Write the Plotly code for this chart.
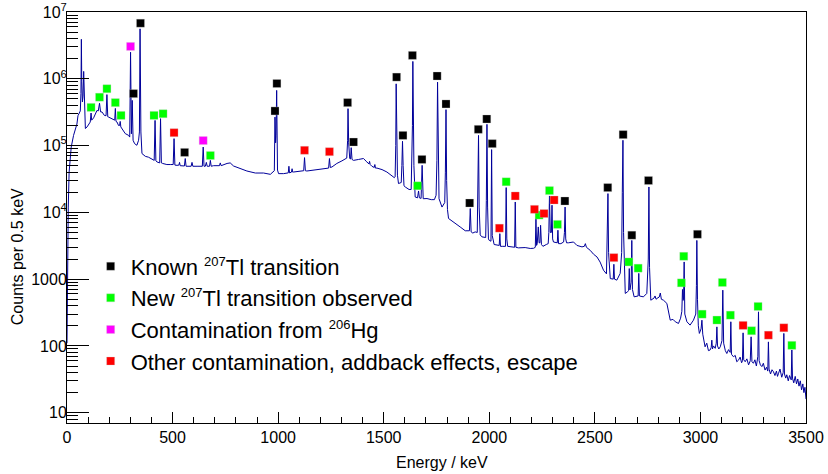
import plotly.graph_objects as go

# ---------------- spectrum (energy in keV, counts per 0.5 keV) ----------------
spec_energy = [
    0, 3, 6, 10, 15, 20, 31, 42, 47, 52, 58, 63, 66, 68, 70, 73, 76, 79, 82, 87,
    95, 105, 110, 114, 117, 126, 135, 142, 148, 154, 159, 166, 177, 185, 189, 193, 197,
    213, 226, 229, 232, 237, 244, 249, 252, 255, 260, 276, 292, 297, 301, 305, 309, 313,
    320, 331, 339, 343, 346, 350, 355,
    371, 386, 402, 413, 417, 421, 426, 434, 439, 443, 447, 453, 473, 489, 503, 507, 511,
    521, 530, 533, 536, 556, 560, 564, 576, 588, 592, 596, 616, 641, 645, 649, 655, 660,
    664, 675, 679, 683, 694, 722, 726, 730, 758, 773, 789, 821, 852, 892, 931, 963, 978,
    982, 985, 988, 990, 993, 997, 1002,
    1026, 1048, 1051, 1054, 1063, 1066, 1069, 1073, 1105, 1121, 1125, 1129, 1136, 1184,
    1215, 1239, 1243, 1247, 1255, 1278, 1302, 1318, 1325, 1329, 1331, 1334, 1339, 1343,
    1346, 1350, 1357, 1381, 1404, 1420, 1430, 1433, 1436, 1444, 1455, 1458, 1461, 1468,
    1492, 1515, 1539, 1550, 1554, 1557, 1559, 1561, 1565, 1570,
    1583, 1586, 1589, 1592, 1596, 1602, 1620, 1630, 1634, 1636, 1638, 1640, 1643, 1649,
    1660, 1665, 1669, 1677, 1682, 1687, 1705, 1725, 1740, 1748, 1752, 1755, 1758, 1762,
    1776, 1789, 1792, 1795, 1798, 1802, 1807, 1831, 1862, 1886, 1906, 1910, 1914, 1922,
    1933, 1943, 1946, 1949, 1952, 1957, 1965, 1983, 1986, 1989, 1992, 1996, 2000, 2008,
    2011, 2014, 2023,
    2036, 2047, 2050, 2053, 2064, 2077, 2080, 2083, 2087, 2099, 2120, 2123, 2126, 2138,
    2170, 2194, 2210, 2218, 2221, 2224, 2227, 2232, 2236, 2240, 2243, 2247, 2254, 2270,
    2279, 2282, 2285, 2289, 2294, 2297, 2300, 2304, 2314, 2322, 2325, 2328, 2339, 2352,
    2356, 2359, 2362, 2366, 2375, 2399, 2415, 2439, 2450, 2455, 2460, 2478, 2494, 2510,
    2525, 2541,
    2555, 2559, 2562, 2565, 2573, 2587, 2590, 2593, 2604, 2620, 2627, 2630, 2633, 2636,
    2644, 2655, 2660, 2663, 2666, 2672, 2675, 2678, 2686, 2705, 2708, 2711, 2730, 2746,
    2753, 2756, 2759, 2765, 2780, 2785, 2790, 2794, 2805, 2810, 2815, 2825, 2841, 2857,
    2870, 2881, 2896, 2906, 2912, 2915, 2918, 2920, 2923, 2926, 2936, 2951, 2967, 2978,
    2981, 2983, 2986, 2990, 2995,
    3003, 3007, 3011, 3022, 3030, 3038, 3046, 3051, 3054, 3057, 3062, 3070, 3075, 3078,
    3081, 3087, 3094, 3102, 3106, 3110, 3118, 3125, 3133, 3141, 3144, 3147, 3156, 3165,
    3172, 3180, 3188, 3195, 3199, 3202, 3205, 3212, 3220, 3228, 3236, 3240, 3244, 3251,
    3258, 3265, 3272, 3275, 3278, 3284, 3291, 3298, 3306, 3313, 3319, 3322, 3325, 3332,
    3339, 3346, 3353, 3360, 3365, 3370, 3377, 3385, 3392, 3395, 3398, 3404, 3409, 3416,
    3422, 3430, 3433, 3436, 3442, 3449, 3455, 3461, 3467, 3473, 3479, 3485, 3490, 3495,
    3500,
]
spec_counts = [
    110, 2000, 1.2e4, 4.0e4, 7.0e4, 9.5e4, 1.42e5, 1.8e5, 2.1e5, 2.8e5, 3.0e5, 3.3e5, 6.0e5, 3.9e6, 9.0e5, 4.5e5, 5.5e5, 1.29e6, 3.5e5, 1.8e5,
    1.9e5, 2.1e5, 2.25e5, 3.07e5, 2.4e5, 2.6e5, 3.0e5, 3.36e5, 3.3e5, 4.3e5, 3.2e5, 3.18e5, 2.83e5, 2.8e5, 5.8e5, 2.7e5, 2.67e5,
    2.53e5, 2.4e5, 3.6e5, 2.3e5, 2.25e5, 2.0e5, 2.0e5, 2.3e5, 1.9e5, 1.79e5, 1.51e5, 1.42e5, 1.34e5, 2.5e6, 1.5e5, 4.75e5, 1.2e5,
    1.07e5, 1.01e5, 1.2e5, 1.6e5, 5.6e6, 1.6e5, 7.6e4,
    6.9e4, 6.7e4, 6.2e4, 6.0e4, 2.38e5, 5.9e4, 5.7e4, 5.5e4, 5.5e4, 2.53e5, 5.5e4, 5.4e4, 5.2e4, 5.2e4, 5.2e4, 1.27e5, 5.1e4,
    5.06e4, 5.1e4, 5.6e4, 5.0e4, 4.95e4, 6.4e4, 4.9e4, 4.9e4, 4.9e4, 5.6e4, 4.9e4, 4.9e4, 4.9e4, 9.5e4, 4.9e4, 4.9e4, 5.6e4,
    4.9e4, 4.9e4, 6.0e4, 4.9e4, 5.0e4, 5.0e4, 5.5e4, 5.0e4, 5.4e4, 5.5e4, 4.94e4, 4.52e4, 4.16e4, 3.88e4, 3.88e4, 3.71e4, 4.02e4,
    4.2e4, 2.67e5, 1.1e5, 1.4e5, 6.7e5, 4.3e4, 3.8e4,
    3.8e4, 3.9e4, 4.9e4, 3.9e4, 4.0e4, 4.5e4, 4.0e4, 4.02e4, 4.16e4, 4.2e4, 6.6e4, 4.2e4, 4.16e4, 4.37e4,
    4.52e4, 4.6e4, 6.4e4, 4.7e4, 4.78e4, 5.4e4, 5.9e4, 6.2e4, 6.5e4, 1.2e5, 3.57e5, 1.1e5, 6.4e4, 6.3e4,
    9.3e4, 6.2e4, 6.0e4, 6.2e4, 6.4e4, 5.7e4, 5.3e4, 5.8e4, 5.2e4, 4.9e4, 4.7e4, 5.2e4, 4.6e4, 4.6e4,
    4.37e4, 4.02e4, 3.59e4, 3.31e4, 3.4e4, 1.0e5, 8.4e5, 9.0e4, 3.6e4, 2.7e4,
    2.8e4, 5.0e4, 1.16e5, 5.0e4, 2.5e4, 2.4e4, 2.2e4, 2.2e4, 6.0e4, 2.0e5, 1.82e6, 2.0e5, 5.0e4, 1.7e4,
    1.65e4, 2.09e4, 1.65e4, 1.62e4, 5.06e4, 1.6e4, 1.61e4, 1.55e4, 1.55e4, 1.8e4, 6.0e4, 8.9e5, 5.0e4, 1.6e4,
    1.2e4, 1.4e4, 4.0e4, 3.45e5, 3.0e4, 1.1e4, 8.1e3, 7.2e3, 6.05e3, 5.3e3, 5.3e3, 1.14e4, 5.1e3, 4.9e3,
    5.1e3, 5.0e3, 1.5e4, 1.42e5, 1.2e4, 4.6e3, 4.3e3, 4.2e3, 1.5e4, 2.08e5, 1.2e4, 4.0e3, 3.8e3, 3.7e3,
    8.7e4, 4.5e3, 3.3e3,
    3.2e3, 3.2e3, 4.8e3, 3.1e3, 3.1e3, 3.1e3, 2.35e4, 4.0e3, 3.1e3, 3.04e3, 3.0e3, 1.43e4, 3.0e3, 2.94e3,
    2.97e3, 2.88e3, 2.9e3, 3.0e3, 8.1e3, 3.2e3, 3.4e3, 6.05e3, 3.5e3, 3.5e3, 6.4e3, 3.3e3, 3.1e3, 3.3e3,
    3.4e3, 5.0e3, 1.76e4, 5.0e3, 5.0e3, 1.28e4, 4.0e3, 3.6e3, 3.5e3, 3.5e3, 5.4e3, 3.4e3, 3.4e3, 3.6e3,
    5.0e3, 1.2e4, 4.0e3, 3.5e3, 3.5e3, 3.6e3, 3.2e3, 3.04e3, 3.1e3, 3.4e3, 3.0e3, 2.7e3, 2.36e3, 2.15e3,
    1.8e3, 1.36e3,
    1.2e3, 3.5e3, 1.91e4, 2.5e3, 1.02e3, 1.0e3, 1.67e3, 1.0e3, 966, 1.22e3, 2.5e3, 2.0e4, 1.2e5, 5.0e3,
    611, 646, 680, 1.44e3, 690, 900, 3.8e3, 700, 543, 560, 1.22e3, 560, 543, 611,
    2.0e3, 2.4e4, 1.5e3, 484, 520, 560, 500, 514, 540, 620, 500, 484, 433, 243,
    250, 230, 217, 260, 330, 700, 480, 500, 1.81e3, 300, 230, 205, 243, 300,
    800, 3.8e3, 500, 200, 154,
    180, 243, 150, 97, 110, 85, 87, 95, 122, 90, 100, 92, 110, 193,
    100, 90, 97, 120, 684, 110, 85, 77, 88, 80, 230, 75, 69, 72,
    58, 61, 68, 56, 60, 157, 62, 58, 64, 52, 60, 137, 58, 55,
    62, 50, 70, 324, 60, 52, 49, 55, 43.5, 48, 42, 115, 45, 38,
    44, 41, 36, 42, 35, 39, 45, 34, 40, 154, 38, 33, 37, 30,
    36, 31, 87, 33, 28, 35, 27, 32, 25, 30, 22, 27, 20, 24,
    16,
]

# ---------------- peak labels (marker energy, marker counts) ----------------
known_E = [348, 315, 994, 985, 557, 1329, 1357, 1561, 1591, 1636, 1681, 1753, 1795,
           1907, 1948, 1988, 2014, 2358, 2561, 2634, 2675, 2754, 2986]
known_C = [6.8e6, 6.0e5, 8.5e5, 3.3e5, 7.9e4, 4.4e5, 1.13e5, 1.06e6, 1.42e5, 2.24e6, 6.2e4,
           1.1e6, 4.2e5, 1.38e4, 1.75e5, 2.5e5, 1.07e5, 1.48e4, 2.35e4, 1.46e5, 4.55e3,
           3.0e4, 4.7e3]

new_E = [114, 154, 189, 229, 256, 412, 455, 679, 1660, 2080, 2236, 2285, 2323, 2661,
         2705, 2921, 2910, 3008, 3078, 3104, 3142, 3242, 3273, 3433]
new_C = [3.73e5, 5.3e5, 7.1e5, 4.4e5, 2.83e5, 2.83e5, 3.0e5, 7.1e4, 2.5e4, 2.87e4, 9.1e3,
         2.12e4, 6.6e3, 1.81e3, 1.46e3, 2.2e3, 880, 299, 244, 891, 289, 169, 390, 102]

hg_E = [301, 645]
hg_C = [3.05e6, 1.19e5]

other_E = [507, 1125, 1243, 2048, 2123, 2214, 2259, 2307, 2590, 3202, 3322, 3395]
other_C = [1.56e5, 8.5e4, 8.1e4, 5.8e3, 1.76e4, 1.11e4, 9.6e3, 1.53e4, 2.1e3, 203, 145, 187]

SUP = '<sup><span style="font-size:13px">{}</span></sup>'
legend_names = [
    "Known " + SUP.format("207") + "Tl transition",
    "New " + SUP.format("207") + "Tl transition observed",
    "Contamination from " + SUP.format("206") + "Hg",
    "Other contamination, addback effects, escape",
]
legend_colors = ["#000000", "#00ff00", "#ff00ff", "#ff0000"]

x_major = [0, 500, 1000, 1500, 2000, 2500, 3000, 3500]
y_major = [10, 100, 1000, 1e4, 1e5, 1e6, 1e7]
y_major_text = ["10", "100", "1000", "10<sup>4</sup>", "10<sup>5</sup>", "10<sup>6</sup>", "10<sup>7</sup>"]
y_minor = [m * 10 ** k for k in range(0, 7) for m in range(2, 10)]

FONT = "Liberation Sans, Arial, Helvetica, sans-serif"

fig = go.Figure()
fig.add_trace(go.Scatter(
    x=spec_energy, y=spec_counts, mode="lines",
    line=dict(color="#00009a", width=1), showlegend=False, hoverinfo="skip",
))

groups = [(known_E, known_C), (new_E, new_C), (hg_E, hg_C), (other_E, other_C)]
for i, ((ex, cy), name, col) in enumerate(zip(groups, legend_names, legend_colors)):
    fig.add_trace(go.Scatter(
        x=ex, y=cy, mode="markers", name=name, legendgroup=f"g{i}",
        marker=dict(symbol="square", size=8, color=col,
                    line=dict(color="rgba(200,200,200,0.6)", width=0.5)),
    ))

fig.update_layout(
    width=828, height=474,
    margin=dict(l=67, r=22, t=12, b=51, autoexpand=False),
    paper_bgcolor="white", plot_bgcolor="white",
    font=dict(family=FONT, size=16, color="black"),
    showlegend=True,
    legend=dict(
        x=0.032, y=0.432, xanchor="left", yanchor="top",
        bgcolor="rgba(0,0,0,0)", borderwidth=0,
        font=dict(family=FONT, size=22, color="black"),
        traceorder="grouped", tracegroupgap=0,
        itemwidth=30,
    ),
    annotations=[
        dict(text="Energy / keV", xref="paper", yref="paper", x=0.507, y=-0.097,
             xanchor="center", yanchor="middle", showarrow=False,
             font=dict(family=FONT, size=16, color="black")),
        dict(text="Counts per 0.5 keV", xref="paper", yref="paper", x=-0.066, y=0.404,
             xanchor="center", yanchor="middle", showarrow=False, textangle=-90,
             font=dict(family=FONT, size=16, color="black")),
    ],
)

fig.update_xaxes(
    range=[0, 3500], tickmode="array", tickvals=x_major, automargin=False,
    ticks="inside", ticklen=11, tickwidth=1, tickcolor="black",
    minor=dict(dtick=100, tick0=0, ticks="inside", ticklen=6, tickwidth=1,
               tickcolor="black", showgrid=False),
    showline=True, linecolor="black", linewidth=1, mirror=True,
    showgrid=False, zeroline=False, ticklabeloverflow="allow",
    tickfont=dict(family=FONT, size=16, color="black"),
)
fig.update_yaxes(
    type="log", range=[0.846, 7], automargin=False,
    tickmode="array", tickvals=y_major, ticktext=y_major_text,
    ticks="inside", ticklen=22, tickwidth=1, tickcolor="black",
    minor=dict(tickmode="array", tickvals=y_minor, ticks="inside", ticklen=11,
               tickwidth=1, tickcolor="black", showgrid=False),
    showline=True, linecolor="black", linewidth=1, mirror=True,
    showgrid=False, zeroline=False, ticklabeloverflow="allow",
    ticklabelstandoff=-4,
    tickfont=dict(family=FONT, size=16, color="black"),
)

# remove the browser's default 8px page margin so the figure fills the window
fig.write_html("out.html", config={"displayModeBar": False},
               post_script="document.body.style.margin='0';")
